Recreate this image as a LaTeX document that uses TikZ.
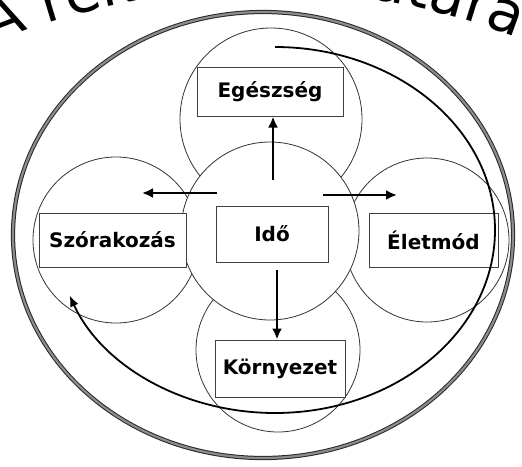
\documentclass[tikz,border=0pt]{standalone}
\usepackage{fontspec}
\setmainfont{DejaVu Sans}
\usetikzlibrary{arrows.meta,decorations.text}
\newcommand{\titlefont}{\fontsize{58}{62}\selectfont}
\tikzset{
  zone/.style={circle, draw=black!80, fill=white, line width=0.8pt, inner sep=0pt},
  labelbox/.style={rectangle, draw=black!75, fill=white, line width=1pt, inner sep=0pt,
    font=\fontsize{20}{22}\selectfont\bfseries},
  bigarrow/.style={line width=2.6pt, -{Latex[length=11pt,width=10pt]}},
}
\begin{document}
\begin{tikzpicture}[x=1pt,y=-1pt]
\useasboundingbox (0,0) rectangle (522,466);
\clip (0,0) rectangle (522,466);

\path[decorate, decoration={text along path, text align=center,
  text={|\titlefont|A rekreáció határai}}]
  (262,690) ++(120:700pt) arc [start angle=120, end angle=60, radius=700pt];

\draw[draw=black!85, double=black!45, double distance=2.2pt, line width=1pt]
  (263,235) ellipse [x radius=250pt, y radius=223pt];

\node[zone, minimum size=166pt] (leftc) at (116,240) {};
\node[zone, minimum size=164pt] (rightc) at (427,240) {};
\node[zone, minimum size=182pt] (topc) at (271,119) {};
\node[zone, minimum size=164pt] (botc) at (278,350) {};
\node[zone, minimum size=178pt] (midc) at (270,231) {};

\node[labelbox, minimum width=146pt, minimum height=49pt] (ege) at (270,91.5) {Egészség};
\node[labelbox, minimum width=147pt, minimum height=54pt] (szor) at (112.5,240) {Szórakozás};
\node[labelbox, minimum width=112pt, minimum height=56pt] (ido) at (272,234) {Idő};
\node[labelbox, minimum width=129pt, minimum height=54pt] (elet) at (433.5,240) {Életmód};
\node[labelbox, minimum width=130pt, minimum height=57pt] (korny) at (280,368.5) {Környezet};

\coordinate (upfrom) at (273,180);
\coordinate (downfrom) at (277,270);
\coordinate (leftfrom) at (217,193);
\coordinate (leftto) at (142,193);
\coordinate (rightfrom) at (323,195);
\coordinate (rightto) at (397,195);

\draw[bigarrow] (upfrom) -- (upfrom |- ege.south);
\draw[bigarrow] (downfrom) -- (downfrom |- korny.north);
\draw[bigarrow] (leftfrom) -- (leftto);
\draw[bigarrow] (rightfrom) -- (rightto);

\coordinate (loopstart) at (275,47);
\draw[line width=1.8pt, -{Latex[length=11pt,width=9pt]}]
  (loopstart) arc [start angle=90, end angle=-159, x radius=220pt, y radius=183pt];
\end{tikzpicture}
\end{document}
